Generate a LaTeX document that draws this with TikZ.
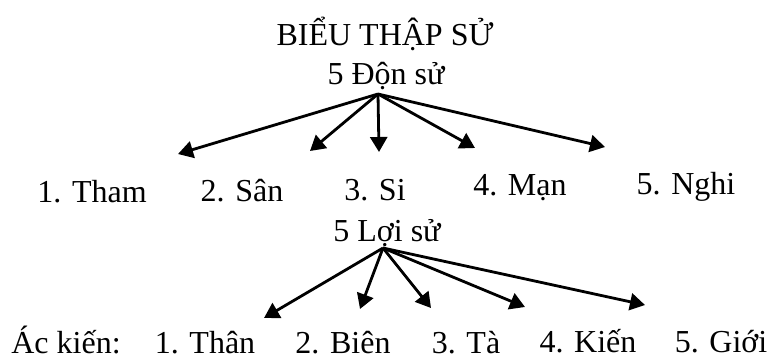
\documentclass[tikz,border=0pt]{standalone}
\usepackage{fontspec}
\setmainfont{Liberation Serif}
\usetikzlibrary{arrows.meta}
\tikzset{
  lbl/.style={anchor=base, inner sep=0pt, font=\fontsize{32}{32}\selectfont},
  arr/.style={line width=2.8pt, -{Triangle[length=15pt,width=17pt]}},
}
\begin{document}
\begin{tikzpicture}[x=1pt,y=-1pt]
\useasboundingbox (0,0) rectangle (769,360);
% texts
\node[lbl] (title) at (385,45) {BIỂU THẬP SỬ};
\node[lbl] (don) at (386,84) {5 Độn sử};
\node[lbl] (a1) at (92,202) {1. Tham};
\node[lbl] (a2) at (242,201) {2. Sân};
\node[lbl] (a3) at (375,200) {3. Si};
\node[lbl] (a4) at (520,195) {4. Mạn};
\node[lbl] (a5) at (686,194) {5. Nghi};
\node[lbl] (loi) at (387,241) {5 Lợi sử};
\node[lbl] (ak) at (66,353) {Ác kiến:};
\node[lbl] (b1) at (205,353) {1. Thân};
\node[lbl] (b2) at (343,353) {2. Biên};
\node[lbl] (b3) at (466,353) {3. Tà};
\node[lbl] (b4) at (588,352) {4. Kiến};
\node[lbl] (b5) at (721,352) {5. Giới};
% arrow points
\coordinate (o1) at (378,94);
\coordinate (t11) at (178,154);
\coordinate (t12) at (310,151);
\coordinate (t13) at (379,152);
\coordinate (t14) at (475,148);
\coordinate (t15) at (605,147);
\coordinate (o2) at (383,248);
\coordinate (t21) at (264,318);
\coordinate (t22) at (360,309);
\coordinate (t23) at (431,308);
\coordinate (t24) at (525,307);
\coordinate (t25) at (645,305);
% arrows
\foreach \t in {t11,t12,t13,t14,t15} \draw[arr] (o1) -- (\t);
\foreach \t in {t21,t22,t23,t24,t25} \draw[arr] (o2) -- (\t);
\end{tikzpicture}
\end{document}
